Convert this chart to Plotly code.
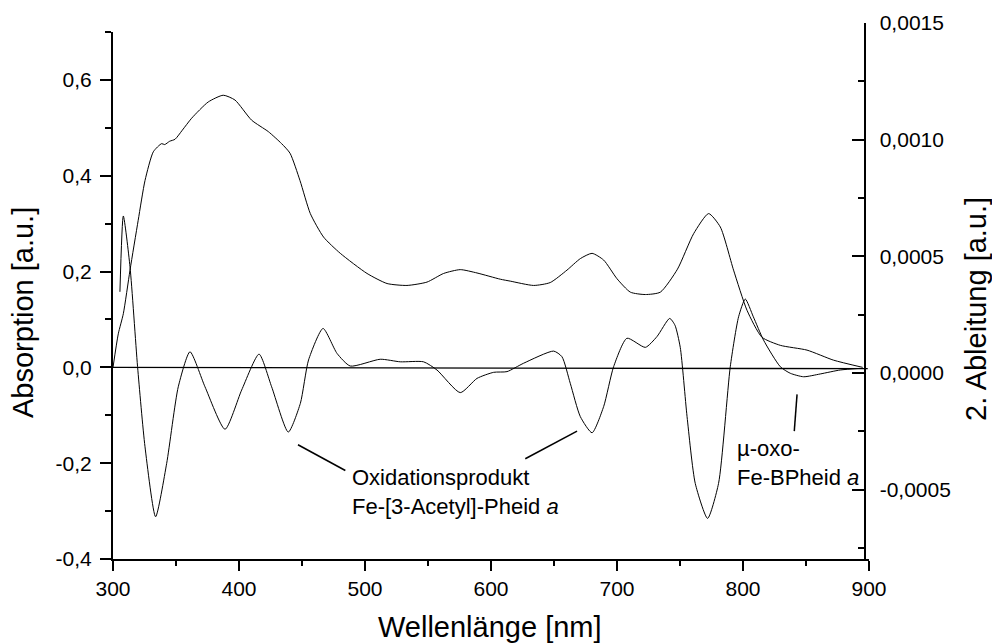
import plotly.graph_objects as go

# Absorption spectrum (left axis)
abs_wl = [300, 304.2, 308.2, 313.5, 320, 325.4, 332, 338.6, 341, 345, 349.2, 355, 362.4,
          375.6, 387.5, 396.8, 410, 423.3, 433.8, 440.5, 448.4, 456.6, 467.1, 480.4,
          501.6, 517.5, 533.3, 549.2, 562.4, 575.6, 588.9, 607.4, 615.3, 633.8, 647,
          660.3, 670.9, 680.2, 689.4, 700, 710.6, 722.5, 734.4, 748, 760.8, 772.7, 782,
          792.5, 803.2, 815, 829.6, 850.8, 871.9, 895]
abs_val = [0.0, 0.07, 0.112, 0.203, 0.307, 0.39, 0.45, 0.467, 0.465, 0.472, 0.476, 0.495,
           0.52, 0.554, 0.568, 0.558, 0.516, 0.492, 0.467, 0.447, 0.39, 0.321, 0.272,
           0.238, 0.196, 0.175, 0.171, 0.178, 0.196, 0.204, 0.197, 0.184, 0.18, 0.171,
           0.177, 0.203, 0.227, 0.238, 0.224, 0.185, 0.157, 0.152, 0.157, 0.205, 0.279,
           0.321, 0.293, 0.203, 0.119, 0.063, 0.046, 0.036, 0.015, 0.0]

# Second derivative (right axis)
der_wl = [305.5, 308.2, 313.5, 319.5, 325.4, 333.8, 342.6, 351.8, 361.1, 373.0, 388.9,
          402.1, 415.9, 425.9, 439.1, 448.7, 455.2, 466.7, 477.8, 488.3, 512.1, 528.0,
          546.5, 557.1, 575.6, 588.9, 602.1, 612.7, 625.9, 649.7, 656.3, 662.9, 670.9,
          680.2, 689.4, 697.3, 707.9, 722.5, 731.7, 741.8, 746.0, 750.2, 755.6, 762.1,
          771.9, 780.6, 789.9, 796.5, 801.8, 808.2, 816.3, 829.6, 837.5, 848.1, 861.3,
          877.2, 893]
der_val = [0.000348, 0.000673, 0.000455, 0.000027, -0.000316, -0.000616, -0.000387,
           -0.000059, 0.000091, -0.000059, -0.000241, -0.000073, 0.000081, -0.000059,
           -0.000253, -0.000130, 0.000056, 0.000191, 0.000084, 0.000030, 0.000059,
           0.000048, 0.000048, 0.000013, -0.000084, -0.000023, 0.000003, 0.000006,
           0.000042, 0.000094, 0.000070, -0.000044, -0.000187, -0.000256, -0.000144,
           0.000027, 0.000149, 0.000110, 0.000156, 0.000234, 0.000205, 0.000110,
           -0.000187, -0.000473, -0.000623, -0.000473, 0.000027, 0.000241, 0.000317,
           0.000241, 0.000141, 0.000027, -0.000001, -0.000016, -0.000004, 0.000013,
           0.00002]

# Baseline
base_wl = [300, 899]
base_val = [0.0, -0.0027]

# Axis ticks
x_ticks = [300, 400, 500, 600, 700, 800, 900]
x_minor = [350, 450, 550, 650, 750, 850]
y1_ticks = [-0.4, -0.2, 0.0, 0.2, 0.4, 0.6]
y1_labels = ["-0,4", "-0,2", "0,0", "0,2", "0,4", "0,6"]
y1_minor = [-0.3, -0.1, 0.1, 0.3, 0.5, 0.7]
y2_ticks = [-0.0005, 0.0, 0.0005, 0.0010, 0.0015]
y2_labels = ["-0,0005", "0,0000", "0,0005", "0,0010", "0,0015"]
y2_minor = [-0.00075, -0.00025, 0.00025, 0.00075, 0.00125]

FONT = "Liberation Sans, Arial, sans-serif"

fig = go.Figure()
fig.add_trace(go.Scatter(x=base_wl, y=base_val, mode="lines", line=dict(color="black", width=1.3),
                         xaxis="x", yaxis="y", showlegend=False, hoverinfo="skip"))
fig.add_trace(go.Scatter(x=abs_wl, y=abs_val, mode="lines",
                         line=dict(color="black", width=1, shape="spline", smoothing=0.6),
                         xaxis="x", yaxis="y", showlegend=False))
fig.add_trace(go.Scatter(x=der_wl, y=der_val, mode="lines",
                         line=dict(color="black", width=1, shape="spline", smoothing=0.6),
                         xaxis="x", yaxis="y2", showlegend=False))

tickfont = dict(family=FONT, size=21, color="black")

fig.update_layout(
    width=992, height=644,
    margin=dict(l=113, r=123, t=23, b=85, autoexpand=False),
    paper_bgcolor="white", plot_bgcolor="rgba(0,0,0,0)",
    font=dict(family=FONT, color="black"),
    xaxis=dict(range=[300, 900], domain=[0, 1], anchor="y",
               showline=True, linewidth=2, linecolor="black",
               showgrid=False, zeroline=False,
               tickmode="array", tickvals=x_ticks, ticktext=[str(v) for v in x_ticks],
               ticks="outside", ticklen=10, tickwidth=2, tickcolor="black",
               minor=dict(tickmode="array", tickvals=x_minor, ticks="outside",
                          ticklen=5, tickwidth=2, tickcolor="black", showgrid=False),
               tickfont=tickfont),
    yaxis=dict(range=[-0.4, 0.7], domain=[0, (559 - 32) / 536], anchor="x",
               showline=True, linewidth=2, linecolor="black",
               showgrid=False, zeroline=False,
               tickmode="array", tickvals=y1_ticks, ticktext=y1_labels,
               ticks="outside", ticklen=11, tickwidth=2, tickcolor="black",
               minor=dict(tickmode="array", tickvals=y1_minor, ticks="outside",
                          ticklen=6, tickwidth=2, tickcolor="black", showgrid=False),
               tickfont=tickfont, ticklabelstandoff=4),
    yaxis2=dict(range=[-0.000797, 0.0015], domain=[0, 1], anchor="free",
                position=(864.5 - 113) / 756, side="right",
                showline=True, linewidth=2, linecolor="black",
                showgrid=False, zeroline=False,
                tickmode="array", tickvals=y2_ticks, ticktext=y2_labels,
                ticks="inside", ticklen=12, tickwidth=2, tickcolor="black",
                minor=dict(tickmode="array", tickvals=y2_minor, ticks="inside",
                           ticklen=6, tickwidth=2, tickcolor="black", showgrid=False),
                tickfont=tickfont, ticklabelstandoff=10),
)

# Leader lines for the band labels
leaders = [
    ((446.8, -0.1615), (484.4, -0.2153)),
    ((627.2, -0.1908), (668.3, -0.1331)),
    ((842.9, -0.0564), (840.7, -0.1331)),
]
for (x0, y0), (x1, y1) in leaders:
    fig.add_shape(type="line", xref="x", yref="y", x0=x0, y0=y0, x1=x1, y1=y1,
                  line=dict(color="black", width=1.5))

label_font = dict(family=FONT, size=22, color="black")
fig.add_annotation(x=488.3, y=-0.260, xref="x", yref="y", xanchor="left", yanchor="middle",
                   text="Oxidationsprodukt<br>Fe-[3-Acetyl]-Pheid <i>a</i>",
                   showarrow=False, align="left", font=label_font)
fig.add_annotation(x=793.9, y=-0.1996, xref="x", yref="y", xanchor="left", yanchor="middle",
                   text="µ-oxo-<br>Fe-BPheid <i>a</i>",
                   showarrow=False, align="left", font=label_font)

# Axis titles
title_font = dict(family=FONT, size=29, color="black")
fig.add_annotation(x=(490 - 113) / 756, y=(559 - 627) / 536, xref="paper", yref="paper",
                   text="Wellenlänge [nm]", showarrow=False, font=title_font,
                   xanchor="center", yanchor="middle")
fig.add_annotation(x=(23 - 113) / 756, y=(559 - 313) / 536, xref="paper", yref="paper",
                   text="Absorption [a.u.]", showarrow=False, font=title_font, textangle=-90,
                   xanchor="center", yanchor="middle")
fig.add_annotation(x=(976 - 113) / 756, y=(559 - 309) / 536, xref="paper", yref="paper",
                   text="2. Ableitung [a.u.]", showarrow=False, font=title_font, textangle=-90,
                   xanchor="center", yanchor="middle")

fig.write_html("out.html")
